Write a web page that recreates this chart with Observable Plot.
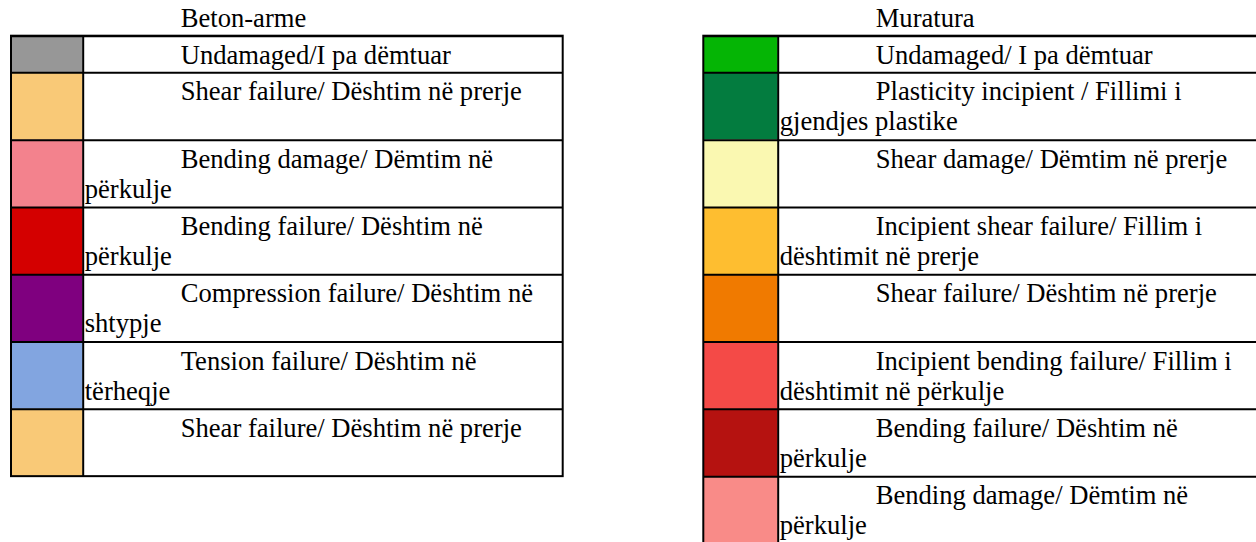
<!DOCTYPE html>
<html><head><meta charset="utf-8">
<script src="https://cdn.jsdelivr.net/npm/d3@7"></script>
<script src="https://cdn.jsdelivr.net/npm/@observablehq/plot@0.6"></script>
<style>html,body{margin:0;padding:0;background:#fff;overflow:hidden}</style>
</head><body><div id="chart"></div>
<script>
// ---- data ----
const betonTitle = "Beton-arme";
const betonLine1 = [
  "Undamaged/I pa dëmtuar",
  "Shear failure/ Dështim në prerje",
  "Bending damage/ Dëmtim në",
  "Bending failure/ Dështim në",
  "Compression failure/ Dështim në",
  "Tension failure/ Dështim në",
  "Shear failure/ Dështim në prerje"
];
const betonLine2 = [null, "", "përkulje", "përkulje", "shtypje", "tërheqje", ""];
const betonColors = ["#979797", "#F9C977", "#F3828D", "#D40000", "#7F007F", "#82A5E0", "#F9C977"];

const muraturaTitle = "Muratura";
const muraturaLine1 = [
  "Undamaged/ I pa dëmtuar",
  "Plasticity incipient / Fillimi i",
  "Shear damage/ Dëmtim në prerje",
  "Incipient shear failure/ Fillim i",
  "Shear failure/ Dështim në prerje",
  "Incipient bending failure/ Fillim i",
  "Bending failure/ Dështim në",
  "Bending damage/ Dëmtim në"
];
const muraturaLine2 = [null, "gjendjes plastike", "", "dështimit në prerje", "", "dështimit në përkulje", "përkulje", "përkulje"];
const muraturaColors = ["#05B505", "#037C3F", "#FAF8B1", "#FEBE30", "#F07A00", "#F44A47", "#B51210", "#F98B88"];

// ---- layout (computed) ----
const W = 1256, H = 542;
const TOP = 35.7, LINE = 30.65, PAD = 6, INDENT = 97.5, BASE = 27.6;

function buildTable(title, l1, l2, colors, left, divider, right) {
  let y = TOP;
  const rows = l1.map((t, i) => {
    const n = l2[i] === null ? 1 : 2;
    const h = PAD + LINE * n;
    const r = {left, divider, right, top: y, bottom: y + h, color: colors[i]};
    y += h;
    return r;
  });
  const texts = [{x: divider + INDENT, y: BASE - 1, text: title}];
  rows.forEach((r, i) => {
    texts.push({x: divider + INDENT, y: r.top + BASE, text: l1[i]});
    if (l2[i]) texts.push({x: divider + 1.5, y: r.top + BASE + 30, text: l2[i]});
  });
  const frame = {left, divider, right, top: TOP, bottom: y};
  return {rows, texts, frame};
}

const tA = buildTable(betonTitle, betonLine1, betonLine2, betonColors, 11, 82.7, 562.7);
const tB = buildTable(muraturaTitle, muraturaLine1, muraturaLine2, muraturaColors, 703.3, 777.7, 1262);
const rows = [...tA.rows, ...tB.rows];
const texts = [...tA.texts, ...tB.texts];
const frames = [tA.frame, tB.frame];

const chart = Plot.plot({
  width: W, height: H, margin: 0,
  x: {domain: [0, W], range: [0, W], axis: null},
  y: {domain: [0, H], range: [0, H], axis: null},
  color: {type: "identity"},
  marks: [
    Plot.rect(rows, {x1: "left", x2: "divider", y1: "top", y2: "bottom", fill: "color", inset: 0}),
    Plot.ruleY(rows, {x1: "left", x2: "right", y: "top", stroke: "#000", strokeWidth: 2}),
    Plot.rect(frames, {x1: "left", x2: "right", y1: "top", y2: "bottom", fill: "none", stroke: "#000", strokeWidth: 2, inset: 0}),
    Plot.ruleX(frames, {x: "divider", y1: "top", y2: "bottom", stroke: "#000", strokeWidth: 2}),
    Plot.text(texts, {x: "x", y: "y", text: "text", textAnchor: "start", lineAnchor: "bottom",
      fontFamily: "Liberation Serif", fontSize: 26.6, fill: "#000"})
  ]
});
document.getElementById("chart").appendChild(chart);
</script>
</body></html>
